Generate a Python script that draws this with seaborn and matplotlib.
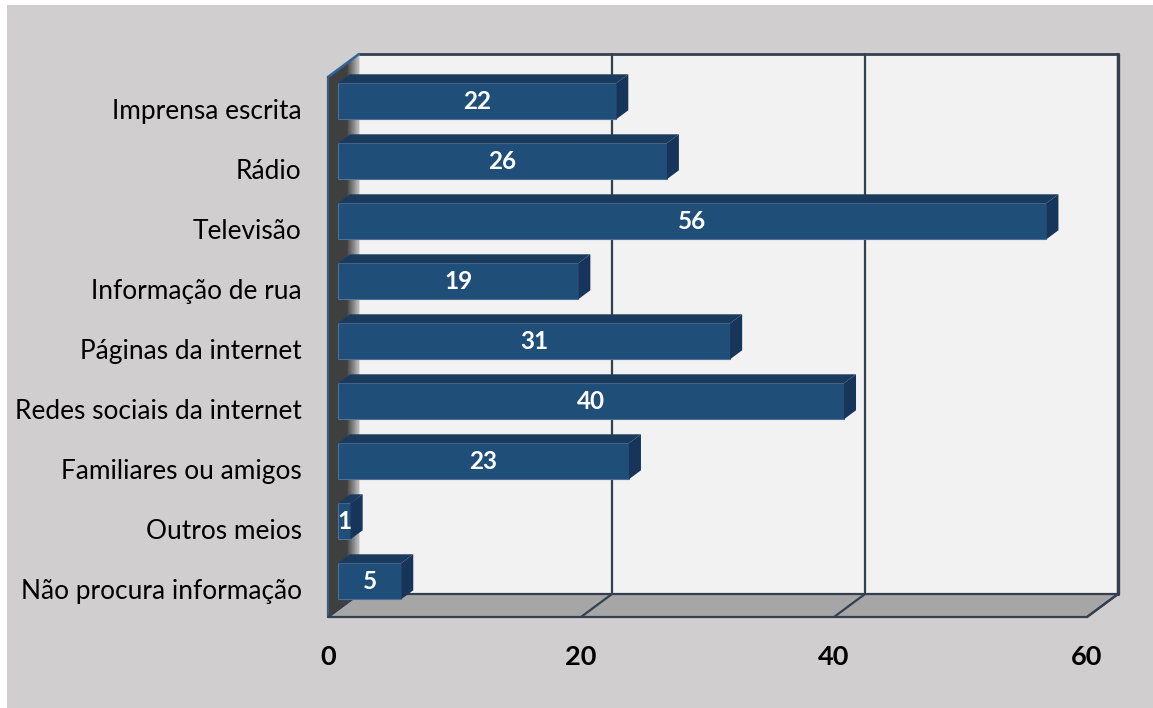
import numpy as np
import pandas as pd
import seaborn as sns
import matplotlib
matplotlib.use("Agg")
import matplotlib.pyplot as plt
import matplotlib.transforms as mtransforms
from matplotlib.patches import Polygon, Rectangle

# ---- data -------------------------------------------------------------
categories = [
    "Imprensa escrita",
    "Rádio",
    "Televisão",
    "Informação de rua",
    "Páginas da internet",
    "Redes sociais da internet",
    "Familiares ou amigos",
    "Outros meios",
    "Não procura informação",
]
values = [22, 26, 56, 19, 31, 40, 23, 1, 5]
x_ticks = [0, 20, 40, 60]

# ---- style ------------------------------------------------------------
sns.set_theme(style="white")
plt.rcParams["font.family"] = ["Lato", "DejaVu Sans"]

BG = "#d0cecf"
WALL = "#f2f2f2"
FLOOR = "#a6a6a6"
EDGE = "#344050"
BAR_FRONT = "#1f4e79"
BAR_TOP = "#1b3b5e"
BAR_SIDE = "#17345a"

W, H, DPI = 1153, 708, 100
fig = plt.figure(figsize=(W / DPI, H / DPI), dpi=DPI)
fig.patch.set_facecolor("white")
fig.patches.append(Rectangle((7 / W, 0), 1 - 7 / W, 1 - 5 / H,
                             transform=fig.transFigure, facecolor=BG,
                             edgecolor="none", zorder=-10))

# front plane of the 3-D box
ax = fig.add_axes([328 / W, 1 - 617 / H, (1087 - 328) / W, (617 - 77) / H])
ax.patch.set_visible(False)

df = pd.DataFrame({"categoria": categories, "valor": values})
sns.barplot(data=df, x="valor", y="categoria", orient="h", color=BAR_FRONT,
            saturation=1, width=0.6, ax=ax, linewidth=0.8,
            edgecolor="#4f7299", zorder=3)

Y_TOP, Y_BOT = -0.527, 8.473
ax.set_xlim(0, 60)
ax.set_ylim(Y_BOT, Y_TOP)
ax.set_xlabel("")
ax.set_ylabel("")
for s in ax.spines.values():
    s.set_visible(False)

ax.set_xticks(x_ticks)
ax.set_xticklabels([str(t) for t in x_ticks], fontsize=19.5,
                   fontweight="bold", color="black")
ax.tick_params(axis="x", length=0, pad=20)
ax.tick_params(axis="y", length=0, pad=19, labelsize=18.9, labelcolor="black")

# depth vector of the box in pixels
DX, DY = 31.0, 23.0
Z_FRONT, Z_BACK = 0.32, 0.71


def P(x, y, z):
    px, py = ax.transData.transform((x, y))
    return (px + z * DX, py + z * DY)


ident = mtransforms.IdentityTransform()


def poly(pts, **kw):
    p = Polygon(pts, closed=True, transform=ident, clip_on=False, **kw)
    ax.add_patch(p)
    return p


def seg(a, b, **kw):
    ax.add_line(plt.Line2D([a[0], b[0]], [a[1], b[1]], transform=ident,
                           clip_on=False, **kw))


bars = [b for b in ax.patches if isinstance(b, Rectangle)]

# back wall
poly([P(0, Y_BOT, 1), P(60, Y_BOT, 1), P(60, Y_TOP, 1), P(0, Y_TOP, 1)],
     facecolor=WALL, edgecolor="none", zorder=0.2)
for t in x_ticks[1:]:
    seg(P(t, Y_BOT, 1), P(t, Y_TOP, 1), color=EDGE, lw=1.6, zorder=0.3)
seg(P(0, Y_TOP, 1), P(60, Y_TOP, 1), color=EDGE, lw=2.0, zorder=0.3)
seg(P(60, Y_TOP, 1), P(60, Y_BOT, 1), color=EDGE, lw=2.4, zorder=0.3)

# floor
poly([P(0, Y_BOT, 0), P(60, Y_BOT, 0), P(60, Y_BOT, 1), P(0, Y_BOT, 1)],
     facecolor=FLOOR, edgecolor=EDGE, lw=1.6, zorder=0.4)
for t in x_ticks[1:]:
    seg(P(t, Y_BOT, 0), P(t, Y_BOT, 1), color=EDGE, lw=1.6, zorder=0.45)

# left wall: dark face, lightening towards the back corner
poly([P(0, Y_BOT, 0), P(0, Y_BOT, 1), P(0, Y_TOP, 1), P(0, Y_TOP, 0)],
     facecolor="#3f3f3f", edgecolor="none", zorder=0.5)
n_strips = 10
for i in range(n_strips):
    z0 = 0.62 + 0.38 * i / n_strips
    z1 = 0.62 + 0.38 * (i + 1) / n_strips
    g = 0.25 + 0.5 * (i + 0.5) / n_strips
    poly([P(0, Y_BOT, z0), P(0, Y_BOT, z1), P(0, Y_TOP, z1), P(0, Y_TOP, z0)],
         facecolor=(g, g, g), edgecolor=(g, g, g), lw=0.6, zorder=0.5)
seg(P(0, Y_TOP, 0), P(0, Y_TOP, 1), color="#2f6699", lw=1.8, zorder=0.6)
seg(P(0, Y_TOP, 0), P(0, Y_BOT, 0), color="#3d5a7c", lw=1.6, zorder=0.6)
seg(P(0, Y_BOT, 0), P(0, Y_BOT, 1), color=EDGE, lw=1.4, zorder=0.6)

# bars: push front faces into the box and add top / side faces
shift = mtransforms.Affine2D().translate(Z_FRONT * DX, Z_FRONT * DY)
for bar, v in zip(bars, values):
    x0, y0 = bar.get_x(), bar.get_y()
    w, h = bar.get_width(), bar.get_height()
    yt, yb = min(y0, y0 + h), max(y0, y0 + h)
    bar.set_transform(ax.transData + shift)
    bar.set_clip_on(False)
    poly([P(x0, yt, Z_FRONT), P(x0 + w, yt, Z_FRONT),
          P(x0 + w, yt, Z_BACK), P(x0, yt, Z_BACK)],
         facecolor=BAR_TOP, edgecolor="none", zorder=3.1)
    poly([P(x0 + w, yt, Z_FRONT), P(x0 + w, yt, Z_BACK),
          P(x0 + w, yb, Z_BACK), P(x0 + w, yb, Z_FRONT)],
         facecolor=BAR_SIDE, edgecolor="none", zorder=3.1)
    ax.text(x0 + w / 2, (yt + yb) / 2, f"{v}", transform=ax.transData + shift,
            ha="center", va="center", color="white", fontsize=17.5,
            fontweight="bold", zorder=4, clip_on=False)

fig.savefig("out.png", dpi=DPI)
